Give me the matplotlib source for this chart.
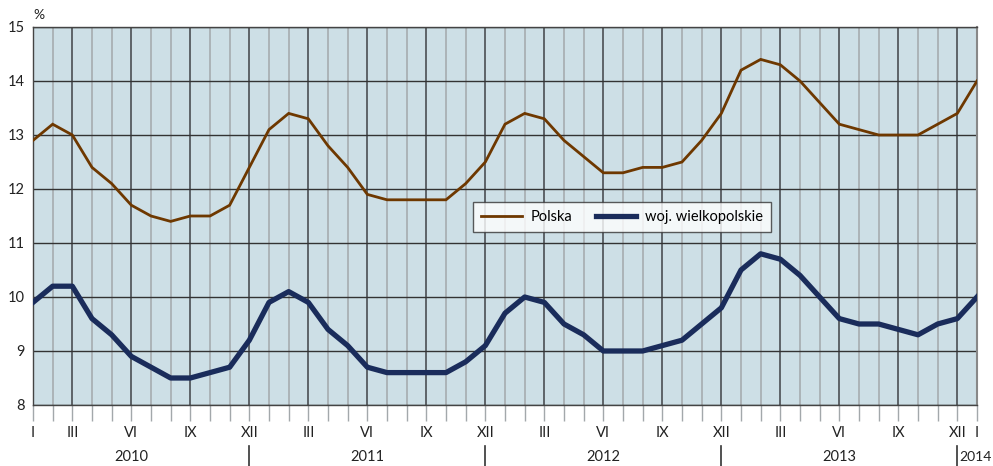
import numpy as np
import matplotlib.pyplot as plt
from matplotlib.lines import Line2D

plt.rcParams['font.family'] = ['Lato', 'DejaVu Sans']

# monthly values, I 2010 .. I 2014
polska = [12.9, 13.2, 13.0, 12.4, 12.1, 11.7, 11.5, 11.4, 11.5, 11.5, 11.7, 12.4,
          13.1, 13.4, 13.3, 12.8, 12.4, 11.9, 11.8, 11.8, 11.8, 11.8, 12.1, 12.5,
          13.2, 13.4, 13.3, 12.9, 12.6, 12.3, 12.3, 12.4, 12.4, 12.5, 12.9, 13.4,
          14.2, 14.4, 14.3, 14.0, 13.6, 13.2, 13.1, 13.0, 13.0, 13.0, 13.2, 13.4,
          14.0]
wielkopolskie = [9.9, 10.2, 10.2, 9.6, 9.3, 8.9, 8.7, 8.5, 8.5, 8.6, 8.7, 9.2,
                 9.9, 10.1, 9.9, 9.4, 9.1, 8.7, 8.6, 8.6, 8.6, 8.6, 8.8, 9.1,
                 9.7, 10.0, 9.9, 9.5, 9.3, 9.0, 9.0, 9.0, 9.1, 9.2, 9.5, 9.8,
                 10.5, 10.8, 10.7, 10.4, 10.0, 9.6, 9.5, 9.5, 9.4, 9.3, 9.5, 9.6,
                 10.0]

month_labels = {0: 'I', 2: 'III', 5: 'VI', 8: 'IX', 11: 'XII',
                14: 'III', 17: 'VI', 20: 'IX', 23: 'XII',
                26: 'III', 29: 'VI', 32: 'IX', 35: 'XII',
                38: 'III', 41: 'VI', 44: 'IX', 47: 'XII', 48: 'I'}
years = ['2010', '2011', '2012', '2013', '2014']
year_pos = [5, 17, 29, 41]
year_seps = [11, 23, 35, 47]

brown = '#6e3800'
navy = '#1a2c5b'

fig = plt.figure(figsize=(9.93, 4.66), dpi=100)
ax = fig.add_axes([33/993, 1-405/466, (977-33)/993, 378/466])
ax.set_facecolor('#cddfe6')

x = np.arange(len(polska))
ax.set_xlim(0, 48)
ax.set_ylim(8, 15)

# vertical grid
for i in range(49):
    if i in month_labels:
        ax.axvline(i, color='#555a5e', lw=1.3, zorder=1)
    else:
        ax.axvline(i, color='#a3a8ab', lw=1.1, zorder=1)
for v in range(8, 16):
    ax.axhline(v, color='#333333', lw=1.0, zorder=1)

ax.plot(x, polska, color=brown, lw=2.0, zorder=3, solid_joinstyle='miter')
ax.plot(x, wielkopolskie, color=navy, lw=3.8, zorder=3)

for s in ['top', 'left', 'bottom']:
    ax.spines[s].set_color('#444444')
    ax.spines[s].set_linewidth(1.0)
ax.spines['right'].set_color('#888888')
ax.spines['right'].set_linewidth(1.5)

ax.set_yticks(range(8, 16))
ax.tick_params(axis='y', length=0, labelsize=10.5, pad=6, colors='#222222')
ax.set_xticks(x)
ax.set_xticklabels([])
ax.tick_params(axis='x', length=11.5, width=1.0, color='#a3a8ab', direction='out')
for i, t in enumerate(ax.xaxis.get_major_ticks()):
    if i in month_labels:
        t.tick1line.set_color('#555a5e')

tr = ax.get_xaxis_transform()
for i, lab in month_labels.items():
    ax.text(i, -0.075, lab, transform=tr, ha='center', va='center',
            fontsize=10.5, color='#222222')
for p, yr in zip(year_pos, years[:4]):
    ax.text(p, -0.138, yr, transform=tr, ha='center', va='center',
            fontsize=10.5, color='#222222')
ax.text(47.12, -0.138, years[4], transform=tr, ha='left', va='center',
        fontsize=10, color='#222222')
for s in year_seps:
    ax.plot([s, s], [-0.108, -0.165], transform=tr, color='#333333', lw=1.2,
            clip_on=False)

ax.text(0.0, 1.032, '%', transform=ax.transAxes, ha='left', va='center',
        fontsize=10, color='#222222')

handles = [Line2D([], [], color=brown, lw=2.0),
           Line2D([], [], color=navy, lw=3.8)]
leg = ax.legend(handles, ['Polska', 'woj. wielkopolskie'], ncol=2,
                loc='center', bbox_to_anchor=((622-33)/944, 1-(217-27)/378),
                fontsize=10.5, frameon=True, fancybox=False, handlelength=2.8,
                handletextpad=0.6, columnspacing=1.6, borderpad=0.55)
leg.get_frame().set_edgecolor('#333333')
leg.get_frame().set_linewidth(1.0)
leg.set_zorder(5)

fig.savefig('out.png', dpi=100)
